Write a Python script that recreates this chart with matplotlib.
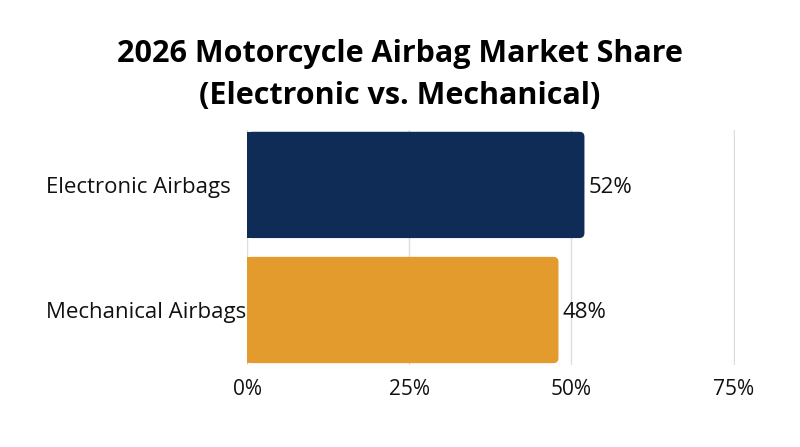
import matplotlib
matplotlib.use("Agg")
import matplotlib.pyplot as plt
from matplotlib.patches import FancyBboxPatch, Rectangle
from matplotlib.transforms import blended_transform_factory

# data
categories = ["Electronic Airbags", "Mechanical Airbags"]
shares = [52, 48]
bar_colors = ["#0f2c56", "#e39b2e"]
xticks = [0, 25, 50, 75]
xtick_labels = ["0%", "25%", "50%", "75%"]

plt.rcParams["font.family"] = ["Open Sans", "DejaVu Sans"]

fig = plt.figure(figsize=(8, 4.47), dpi=100)
ax = fig.add_axes([0.30875, 0.1834, 0.61, 0.526])

ypos = list(range(len(categories)))
bh = 0.85
bars = ax.barh(ypos, shares, height=bh, color="none")

# rounded right end, square left end
for b, c in zip(bars, bar_colors):
    x0, y0 = b.get_x(), b.get_y()
    w, h = b.get_width(), b.get_height()
    ax.add_patch(FancyBboxPatch((x0, y0), w, h,
                                boxstyle="round,pad=0,rounding_size=0.8",
                                mutation_aspect=0.05, fc=c, ec="none", zorder=3))
    ax.add_patch(Rectangle((x0, y0), w / 2, h, fc=c, ec="none", zorder=3))
    ax.text(x0 + w + 0.6, y0 + h / 2 + 0.02, f"{w:.0f}%", va="center", ha="left",
            fontsize=16, color="#111111")

ax.set_xlim(0, 75.2)
ax.set_ylim(1.44, -0.44)
ax.set_xticks(xticks)
ax.set_xticklabels(xtick_labels, fontsize=15, color="#111111")
ax.set_yticks(ypos)
ax.set_yticklabels([])
trans = blended_transform_factory(fig.transFigure, ax.transData)
for y, name in zip(ypos, categories):
    ax.text(46 / 800, y + 0.02, name, transform=trans, ha="left", va="center",
            fontsize=16, color="#111111")
ax.tick_params(axis="both", length=0)
ax.tick_params(axis="x", pad=10)
ax.grid(axis="x", color="#dddddd", linewidth=1, zorder=0)
ax.set_axisbelow(True)
for s in ax.spines.values():
    s.set_visible(False)

fig.text(0.5, 0.832, "2026 Motorcycle Airbag Market Share\n(Electronic vs. Mechanical)",
         ha="center", va="center", fontsize=22, fontweight="bold",
         linespacing=1.55, color="#000000")

fig.savefig("out.png", dpi=100, facecolor="white")
